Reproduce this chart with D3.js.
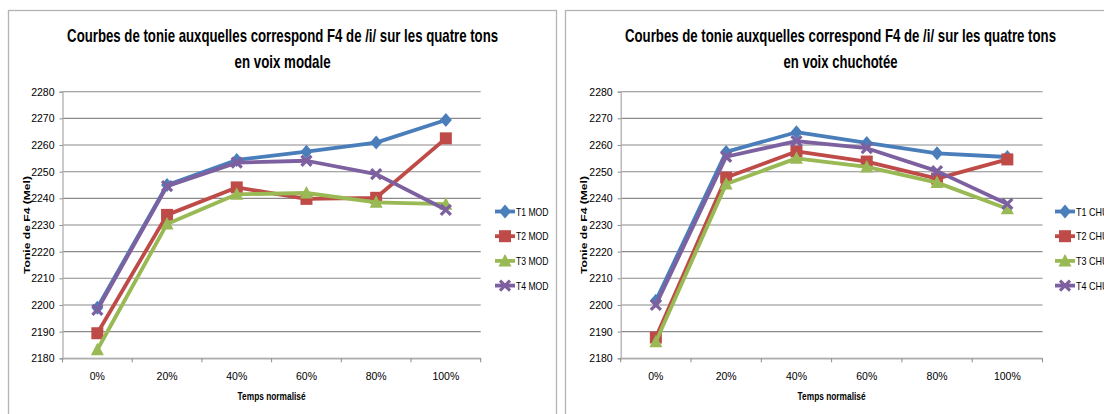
<!DOCTYPE html>
<html><head><meta charset="utf-8">
<script src="https://cdn.jsdelivr.net/npm/d3@7"></script>
<style>
html,body{margin:0;padding:0;background:#fff;overflow:hidden}
svg{display:block}
text{font-family:"Liberation Sans Narrow","Liberation Sans",Arial,sans-serif;fill:#000}
</style></head>
<body>
<svg id="c" width="1104" height="414"></svg>
<script>
// ---- data ----
const categories = ["0%", "20%", "40%", "60%", "80%", "100%"];
const yTicks = [2180, 2190, 2200, 2210, 2220, 2230, 2240, 2250, 2260, 2270, 2280];
const seriesNames = ["T1", "T2", "T3", "T4"];
const modT1 = [2199.0, 2245.0, 2254.4, 2257.5, 2260.9, 2269.4];
const modT2 = [2189.4, 2233.8, 2244.1, 2239.8, 2240.2, 2262.5];
const modT3 = [2183.2, 2230.4, 2241.5, 2242.0, 2238.5, 2237.8];
const modT4 = [2198.2, 2244.6, 2253.4, 2254.1, 2249.1, 2235.7];
const chuT1 = [2201.6, 2257.4, 2264.8, 2260.8, 2256.9, 2255.5];
const chuT2 = [2187.8, 2247.8, 2257.6, 2253.8, 2247.4, 2254.6];
const chuT3 = [2186.2, 2245.4, 2255.0, 2251.8, 2245.9, 2236.1];
const chuT4 = [2200.0, 2255.6, 2261.5, 2258.8, 2250.2, 2237.9];
const titleLine1 = "Courbes de tonie auxquelles correspond F4 de /i/ sur les quatre tons";
const titleModal = "en voix modale";
const titleWhisper = "en voix chuchotée";
const xTitle = "Temps normalisé";
const yTitle = "Tonie de F4  (Mel)";
const legendMod = ["T1 MOD", "T2 MOD", "T3 MOD", "T4 MOD"];
const legendChu = ["T1 CHU", "T2 CHU", "T3 CHU", "T4 CHU"];

const colors = ["#4A7EBB", "#BE4B48", "#98B954", "#7D60A0"];
const markers = ["diamond", "square", "triangle", "x"];

const svg = d3.select("#c");

function markerPath(type) {
  if (type === "diamond") return "M0,-7L6,0L0,7L-6,0Z";
  if (type === "square") return "M-6,-6H6V6H-6Z";
  if (type === "triangle") return "M0,-7L6.5,5.5L-6.5,5.5Z";
  return "M-5,-5L5,5M5,-5L-5,5";
}

function drawMarker(g, type, color, x, y) {
  if (type === "x") {
    g.append("path").attr("d", markerPath(type)).attr("transform", `translate(${x},${y})`)
      .attr("stroke", color).attr("stroke-width", 3.2).attr("fill", "none");
  } else {
    g.append("path").attr("d", markerPath(type)).attr("transform", `translate(${x},${y})`)
      .attr("fill", color);
  }
}

function fit(sel, w) {
  sel.attr("textLength", w).attr("lengthAdjust", "spacingAndGlyphs");
  return sel;
}

function chart(opt) {
  const g = svg.append("g");
  // frame
  g.append("rect").attr("x", opt.frameX).attr("y", 10.5).attr("width", opt.frameW).attr("height", 430)
    .attr("fill", "#fff").attr("stroke", "#b3b3b3").attr("stroke-width", 1.3);

  const x = d3.scaleBand().domain(categories).range([opt.x0, opt.x1]);
  const y = d3.scaleLinear().domain([2180, 2280]).range([358.3, 91.7]);

  // gridlines
  g.append("g").selectAll("line").data(yTicks).join("line")
    .attr("x1", opt.x0).attr("x2", opt.x1)
    .attr("y1", d => y(d)).attr("y2", d => y(d))
    .attr("stroke", "#8a8a8a").attr("stroke-width", 1.1);

  // y axis
  const ya = g.append("g").attr("transform", `translate(${opt.x0},0)`)
    .call(d3.axisLeft(y).tickValues(yTicks).tickSize(3).tickPadding(5).tickFormat(d3.format("d")));
  ya.select(".domain").attr("stroke", "#b0b0b0").attr("stroke-width", 1.3);
  ya.selectAll(".tick line").attr("stroke", "#8a8a8a");
  ya.selectAll("text").attr("font-size", 10.5);

  // x axis
  const xa = g.append("g").attr("transform", `translate(0,${y(2180)})`)
    .call(d3.axisBottom(x).tickSize(0).tickPadding(14));
  xa.select(".domain").attr("stroke", "#b0b0b0").attr("stroke-width", 1.3);
  xa.selectAll("text").attr("font-size", 10.5);
  // x tick marks between categories
  const bounds = categories.map(c => x(c)).concat([opt.x1]);
  g.append("g").selectAll("line").data(bounds).join("line")
    .attr("x1", d => d).attr("x2", d => d)
    .attr("y1", y(2180)).attr("y2", y(2180) + 4)
    .attr("stroke", "#8a8a8a").attr("stroke-width", 1);
  svg.selectAll(".tick text").attr("font-family", null);

  // titles
  fit(g.append("text").attr("x", opt.titleCx).attr("y", 42).attr("text-anchor", "middle")
    .attr("font-size", 19).attr("font-weight", "bold").text(titleLine1), 431);
  fit(g.append("text").attr("x", opt.titleCx).attr("y", 68).attr("text-anchor", "middle")
    .attr("font-size", 19).attr("font-weight", "bold").text(opt.sub), opt.subW);

  // axis titles
  const pc = (opt.x0 + opt.x1) / 2;
  fit(g.append("text").attr("x", pc).attr("y", 400).attr("text-anchor", "middle")
    .attr("font-size", 11).attr("font-weight", "bold").text(xTitle), 68);
  fit(g.append("text").attr("transform", `translate(${opt.yTitleX},225) rotate(-90)`)
    .attr("text-anchor", "middle").attr("font-size", 9.5).attr("font-weight", "bold")
    .style("font-family", "'Liberation Sans',Arial,sans-serif").text(yTitle), 98);

  // series
  const line = d3.line().x((d, i) => x(categories[i]) + x.bandwidth() / 2).y(d => y(d));
  opt.data.forEach((vals, si) => {
    const sg = g.append("g");
    sg.append("path").datum(vals).attr("d", line).attr("fill", "none")
      .attr("stroke", colors[si]).attr("stroke-width", 3.8).attr("stroke-linejoin", "round");
    vals.forEach((v, i) => drawMarker(sg, markers[si], colors[si], x(categories[i]) + x.bandwidth() / 2, y(v)));
  });

  // legend
  opt.legend.forEach((name, i) => {
    const ly = 211.5 + i * 24.7;
    const lg = g.append("g");
    lg.append("line").attr("x1", opt.legX).attr("x2", opt.legX + 20).attr("y1", ly).attr("y2", ly)
      .attr("stroke", colors[i]).attr("stroke-width", 3.8);
    drawMarker(lg, markers[i], colors[i], opt.legX + 10, ly);
    fit(lg.append("text").attr("x", opt.legX + 21).attr("y", ly + 4).attr("font-size", 11).text(name), 32.5);
  });
}

chart({frameX: 8.5, frameW: 548, x0: 62.5, x1: 480.7, titleCx: 282.6, sub: titleModal, subW: 96,
  yTitleX: 29.5, legX: 495, legend: legendMod, data: [modT1, modT2, modT3, modT4]});
chart({frameX: 565.5, frameW: 560, x0: 620.7, x1: 1042.5, titleCx: 840.5, sub: titleWhisper, subW: 114,
  yTitleX: 586.5, legX: 1055, legend: legendChu, data: [chuT1, chuT2, chuT3, chuT4]});
</script>
</body></html>
